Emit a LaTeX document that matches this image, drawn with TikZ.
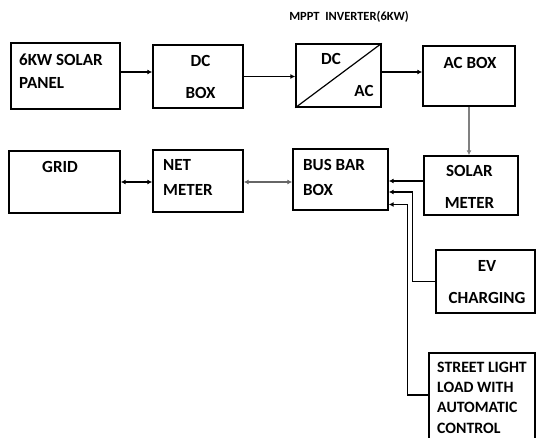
\documentclass[tikz,border=0pt]{standalone}
\usepackage{fontspec}
\setmainfont{Carlito}
\usetikzlibrary{arrows.meta}

\begin{document}
\begin{tikzpicture}[x=1pt, y=-1pt,
    box/.style={draw, line width=1.4pt, inner sep=0pt},
    txt/.style={font=\fontsize{17}{20}\selectfont\bfseries, inner sep=0pt},
    wire/.style={line width=1.4pt, -{Latex[length=5pt,width=5pt]}},
    both/.style={line width=1.4pt, {Latex[length=5pt,width=5pt]}-{Latex[length=5pt,width=5pt]}}]
    \useasboundingbox (0,0) rectangle (536,437);

    % top row
    \node[txt, font=\fontsize{12.5}{15}\selectfont\bfseries, anchor=base] (title) at (349,20) {MPPT\ \ INVERTER(6KW)};
    \node[box, minimum width=109, minimum height=66] (panel) at (65.5,76) {};
    \node[box, minimum width=90, minimum height=63] (dcbox) at (198,76.5) {};
    \node[box, minimum width=85, minimum height=63] (inverter) at (338.5,75.5) {};
    \node[box, minimum width=92, minimum height=60] (acbox) at (469,76) {};
    \draw[line width=1.2pt] (inverter.south west) -- (inverter.north east);

    \node[txt, align=left, anchor=north west] (panel-txt) at (19,53.5) {6KW SOLAR\\[3pt]PANEL};
    \node[txt, align=center, anchor=north] (dcbox-txt) at (200.5,55.5) {DC\\[12pt]BOX};
    \node[txt] (inverter-dc) at (331,59) {DC};
    \node[txt] (inverter-ac) at (364,91) {AC};
    \node[txt] (acbox-txt) at (470,63) {AC BOX};

    % middle row
    \node[box, minimum width=111, minimum height=62] (grid) at (64.5,182) {};
    \node[box, minimum width=90, minimum height=62] (netmeter) at (198,181) {};
    \node[box, minimum width=95, minimum height=61] (busbar) at (340.5,179.5) {};
    \node[box, minimum width=94, minimum height=59] (solarmeter) at (471,185.5) {};

    \node[txt] (grid-txt) at (60,167) {GRID};
    \node[txt, align=left, anchor=north west] (netmeter-txt) at (163,159.5) {NET\\[5pt]METER};
    \node[txt, align=left, anchor=north west] (busbar-txt) at (303,159.5) {BUS BAR\\[5pt]BOX};
    \node[txt, align=center, anchor=north] (solarmeter-txt) at (469.5,165.5) {SOLAR\\[11.5pt]METER};

    % loads
    \node[box, minimum width=99, minimum height=63] (evcharge) at (485.5,281.5) {};
    \node[box, minimum width=106, minimum height=92] (streetlight) at (482,399) {};
    \node[txt, align=center, anchor=north] (evcharge-txt) at (487,260.5) {EV\\[11.5pt]CHARGING};
    \node[txt, font=\fontsize{15.8}{20.4}\selectfont\bfseries, align=left, anchor=north west] (streetlight-txt) at (437,361.5) {STREET LIGHT\\LOAD WITH\\AUTOMATIC\\CONTROL};

    % connections
    \draw[wire] ([yshift=4pt]panel.east) -- ([yshift=4pt]panel.east -| dcbox.west);
    \draw[wire] (dcbox.east) -- (dcbox.east -| inverter.west);
    \draw[wire] ([yshift=3.5pt]inverter.east) -- ([yshift=3.5pt]inverter.east -| acbox.west);
    \draw[wire, gray] (acbox.south) -- (acbox.south |- solarmeter.north);
    \draw[both] (grid.east) -- (grid.east -| netmeter.west);
    \draw[both, gray!80!black] ([yshift=-2.5pt]busbar.west) -- ([yshift=-2.5pt]busbar.west -| netmeter.east);
    \draw[wire] ([yshift=4.5pt]solarmeter.west) -- ([yshift=4.5pt]solarmeter.west -| busbar.east);
    \draw[wire] (evcharge.west) -| ([xshift=24pt,yshift=-12.5pt]busbar.east) -- ([yshift=-12.5pt]busbar.east);
    \draw[wire] ([yshift=4pt]streetlight.west) -| ([xshift=19pt,yshift=-25pt]busbar.east) -- ([yshift=-25pt]busbar.east);
\end{tikzpicture}
\end{document}
